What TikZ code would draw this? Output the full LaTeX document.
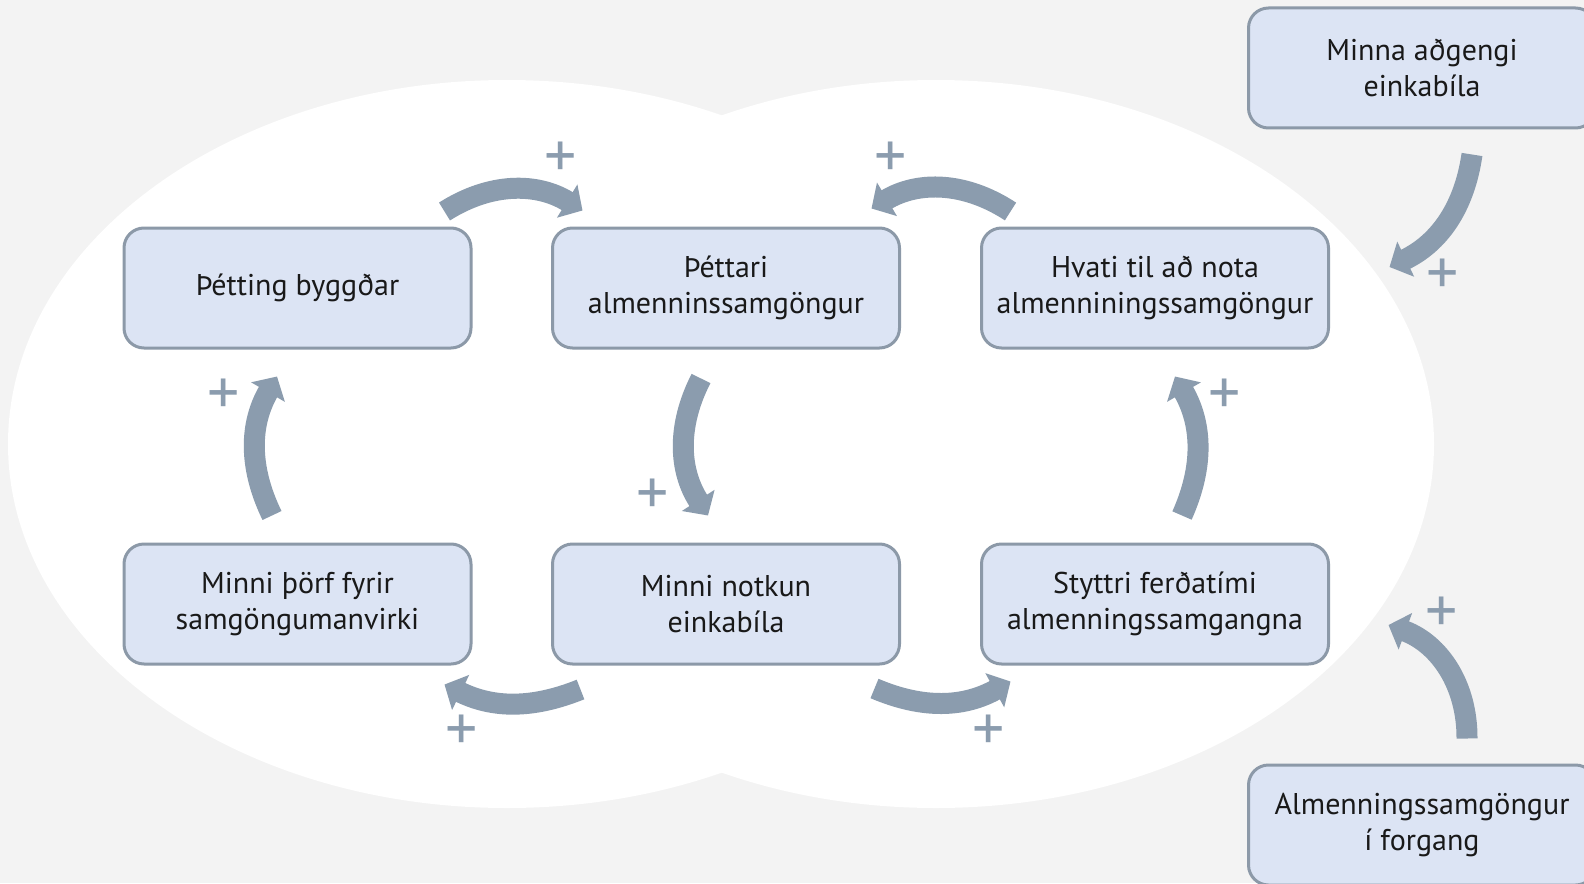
\documentclass[tikz,border=0pt]{standalone}
\usepackage{fontspec}
\setmainfont{PT Sans}
\usetikzlibrary{arrows.meta,positioning}
\definecolor{boxfill}{HTML}{DCE4F4}
\definecolor{boxline}{HTML}{8C99A8}
\definecolor{arrowcol}{HTML}{8B9CAE}
\definecolor{backg}{HTML}{F3F3F3}

\begin{document}
\begin{tikzpicture}[x=0.5pt,y=-0.5pt,
factor/.style={draw=boxline,line width=1.5pt,fill=boxfill,rounded corners=10pt,
  minimum width=173.5pt,minimum height=60pt,align=center,
  font=\fontsize{15}{18}\selectfont,text=black!90},
cyclearrow/.style={draw=arrowcol,line width=10.5pt,-{Triangle[length=9pt,width=19pt]}},
plussign/.style={text=arrowcol,font=\fontsize{32}{32}\selectfont,inner sep=0pt}]
\useasboundingbox (0,0) rectangle (1584,883);
\fill[backg] (0,0) rectangle (1584,883);
\clip (0,0) rectangle (1584,883);
\fill[white] (507,444) ellipse [x radius=499,y radius=364];
\fill[white] (936,444) ellipse [x radius=498,y radius=364];

\node[factor] (B1) at (297.5,288) {Þétting byggðar};
\node[factor] (B2) at (726,288) {Þéttari\\almenninssamgöngur};
\node[factor] (B3) at (1155,288) {Hvati til að nota\\almenniningssamgöngur};
\node[factor] (B4) at (297.5,604) {Minni þörf fyrir\\samgöngumanvirki};
\node[factor] (B5) at (726,604) {Minni notkun\\einkabíla};
\node[factor] (B6) at (1155,604) {Styttri ferðatími\\almenningssamgangna};
\node[factor] (Top) at (1422,68) {Minna aðgengi\\einkabíla};
\node[factor] (Bot) at (1422,825) {Almenningssamgöngur\\í forgang};

\draw[cyclearrow] ([shift={(-28,-15)}]B1.north east) to[bend left=32] ([shift={(31.5,-16)}]B2.north west);
\draw[cyclearrow] ([shift={(30.5,-15)}]B3.north west) to[bend right=32] ([shift={(-29.5,-18)}]B2.north east);
\draw[cyclearrow] ([shift={(-25.5,-27)}]B4.north) to[bend left=28] ([shift={(-20.5,27)}]B1.south);
\draw[cyclearrow] ([shift={(-25,29)}]B2.south) to[bend right=30] ([shift={(-18,-27)}]B5.north);
\draw[cyclearrow] ([shift={(27,-27)}]B6.north) to[bend right=27] ([shift={(20,27)}]B3.south);
\draw[cyclearrow] ([shift={(29.5,24)}]B5.south west) to[bend left=24] ([shift={(-28,19)}]B4.south east);
\draw[cyclearrow] ([shift={(-26.5,23)}]B5.south east) to[bend right=26] ([shift={(30.5,16)}]B6.south west);
\draw[cyclearrow] ([shift={(50,25)}]Top.south) to[bend left=28] ([shift={(59.5,-21)}]B3.east);
\draw[cyclearrow] ([shift={(45,-25)}]Bot.north) to[bend right=35] ([shift={(58.5,21)}]B6.east);

\node[plussign] (P1) at (561,160) {+};
\node[plussign] (P2) at (891,160) {+};
\node[plussign] (P3) at (224,397) {+};
\node[plussign] (P4) at (653,497) {+};
\node[plussign] (P5) at (1225,397) {+};
\node[plussign] (P6) at (462,733) {+};
\node[plussign] (P7) at (989,733) {+};
\node[plussign] (P8) at (1443,277) {+};
\node[plussign] (P9) at (1442,615) {+};
\end{tikzpicture}
\end{document}
